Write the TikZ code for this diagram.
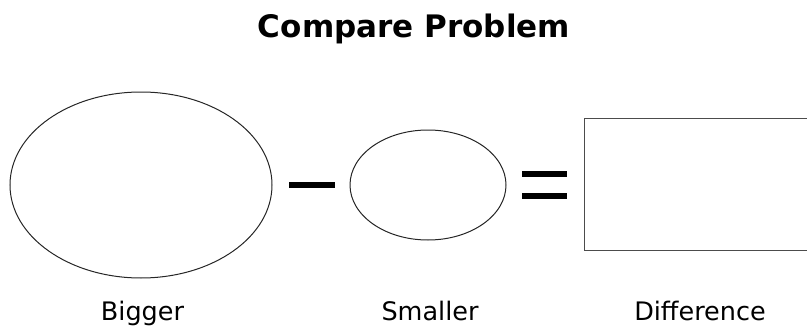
\documentclass[tikz,border=0pt]{standalone}
\usepackage{fontspec}
\setmainfont{DejaVu Sans}
\usetikzlibrary{shapes.geometric}
\begin{document}
\begin{tikzpicture}[x=1pt,y=1pt,
  oval/.style={draw=black!85,line width=1pt,ellipse,inner sep=0pt},
  bar/.style={fill=black,draw=none,inner sep=0pt,minimum height=6pt},
  lbl/.style={font=\fontsize{25.5}{29}\selectfont,anchor=base}]
\useasboundingbox (0,0) rectangle (807,333);
\node[font=\bfseries\fontsize{31}{35}\selectfont,anchor=base] (title) at (414,296) {Compare Problem};
\node[oval,minimum width=262pt,minimum height=186pt] (bigger) at (141,148) {};
\node[oval,minimum width=156pt,minimum height=110pt] (smaller) at (428,148) {};
\node[bar,minimum width=46pt] (minus) at (312,148) {};
\node[bar,minimum width=45pt] (eqtop) at (544.5,159) {};
\node[bar,minimum width=45pt] (eqbot) at (544.5,137) {};
\node[draw=black!70,line width=1.2pt,inner sep=0pt,anchor=south west,minimum width=230pt,minimum height=132pt] (diff) at (584,82) {};
\node[lbl] (lbig) at (142.5,13) {Bigger};
\node[lbl] (lsmall) at (430,13) {Smaller};
\node[lbl] (ldiff) at (700,13) {Difference};
\end{tikzpicture}
\end{document}
